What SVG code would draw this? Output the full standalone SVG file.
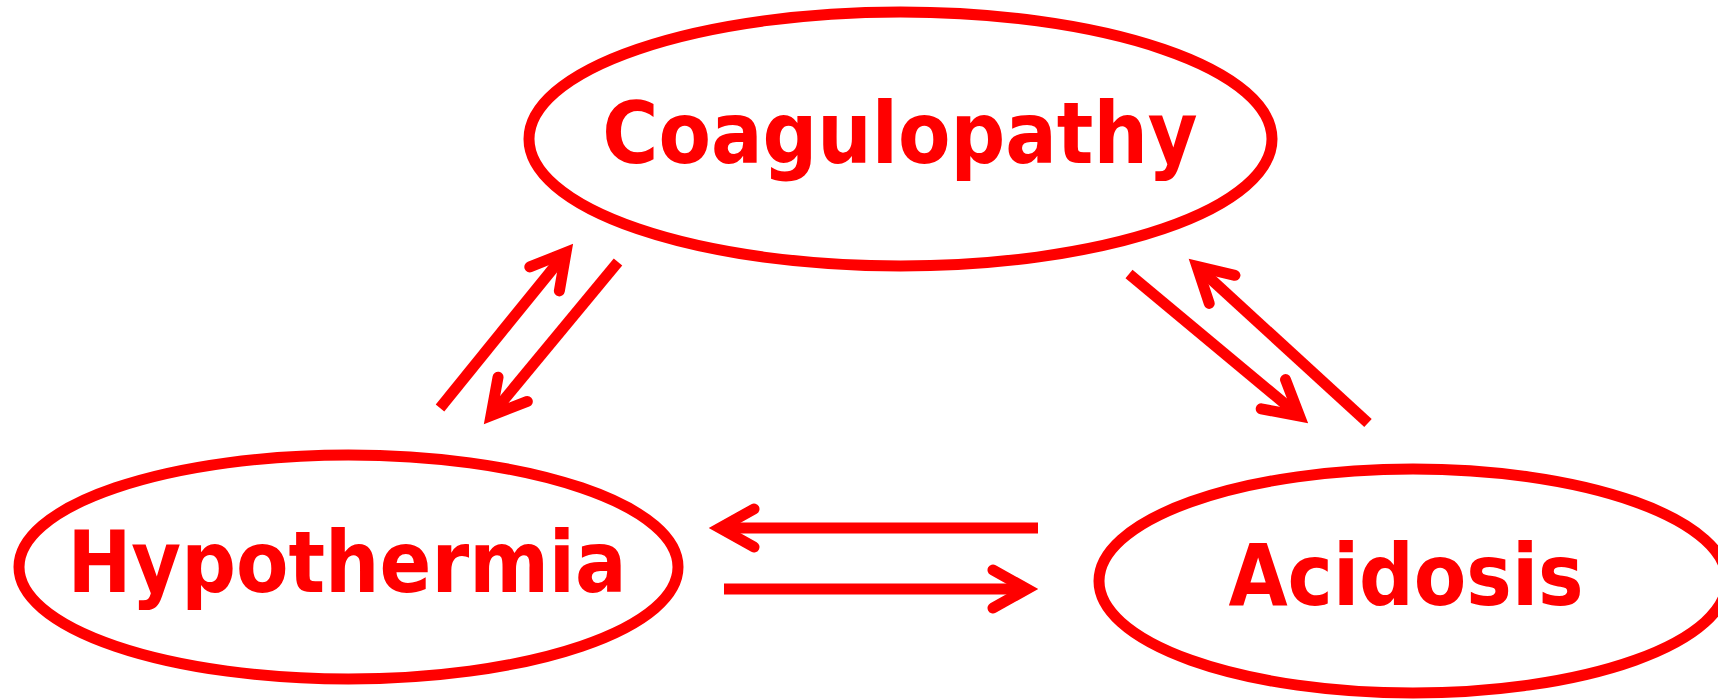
<svg xmlns="http://www.w3.org/2000/svg" width="1718" height="700" viewBox="0 0 1718 700">
<style>
.node ellipse{fill:#fff;stroke:#ff0000;stroke-width:11}
.node text{font-family:'DejaVu Sans Condensed','DejaVu Sans',sans-serif;font-stretch:condensed;font-weight:bold;font-size:85px;fill:#ff0000;text-anchor:middle}
.conn line{stroke:#ff0000;stroke-width:11;stroke-linecap:butt;marker-end:url(#head)}
</style>
<defs>
<marker id="head" markerUnits="userSpaceOnUse" orient="auto" refX="0" refY="0" markerWidth="80" markerHeight="80" viewBox="-50 -40 80 80" overflow="visible">
<path d="M -34 -19 L 0 0 L -34 19" fill="none" stroke="#ff0000" stroke-width="11" stroke-linecap="round" stroke-linejoin="miter" stroke-miterlimit="10"/>
</marker>
</defs>
<rect width="1718" height="700" fill="#fff"/>
<g id="coagulopathy" class="node">
<ellipse cx="900.5" cy="139" rx="371.5" ry="127"/>
<text x="900" y="163">Coagulopathy</text>
</g>
<g id="hypothermia" class="node">
<ellipse cx="348.5" cy="567" rx="329.5" ry="112"/>
<text x="347" y="592">Hypothermia</text>
</g>
<g id="acidosis" class="node">
<ellipse cx="1413" cy="581" rx="314" ry="112"/>
<text x="1406" y="605">Acidosis</text>
</g>
<g id="connectors" class="conn">
<line x1="440" y1="408" x2="566" y2="252.5"/>
<line x1="618" y1="262" x2="491" y2="415.5"/>
<line x1="1129" y1="274" x2="1299.5" y2="416"/>
<line x1="1368" y1="423" x2="1197" y2="266.4"/>
<line x1="1038" y1="528" x2="720" y2="528"/>
<line x1="724" y1="589" x2="1027" y2="589"/>
</g>
</svg>
